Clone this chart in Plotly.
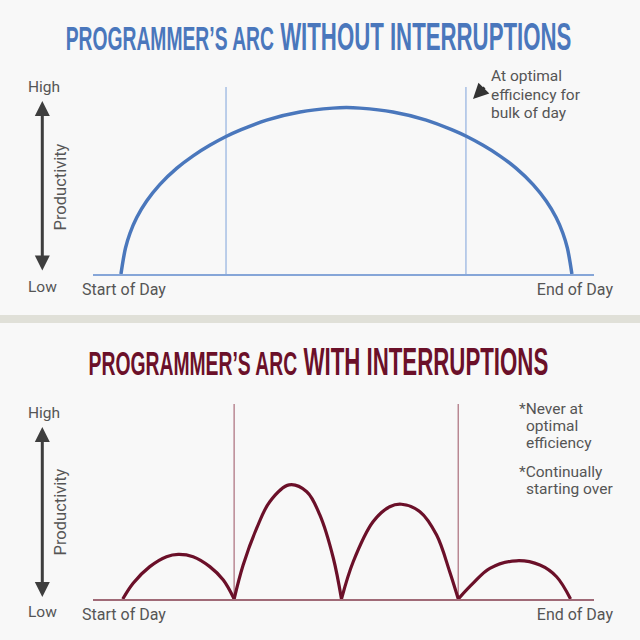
import plotly.graph_objects as go

# ---------------- data ----------------
# time of day: 0 = start of day, 100 = end of day ; productivity: 0 = low, 100 = high
top_x = [0, 1.0, 2.0, 3.5, 5.7, 8.6, 12.4, 16.0, 19.7, 23.3, 26.4, 32.3, 39.7, 47.0, 50.0,
         53.0, 60.3, 67.7, 73.6, 76.7, 80.3, 84.0, 87.6, 91.4, 94.3, 96.5, 98.0, 99.0, 100]
top_y = [0, 13.8, 21.8, 30.2, 39.0, 47.8, 56.6, 63.2, 68.8, 73.5, 76.9, 82.3, 86.6, 88.7, 89.0,
         88.7, 86.6, 82.3, 76.9, 73.5, 68.8, 63.2, 56.6, 47.8, 39.0, 30.2, 21.8, 13.8, 0]
optimal_bounds = [23.3, 76.5]

arc_x = [
    [0.4, 2.7, 6.4, 10.1, 12.7, 16.0, 19.7, 22.7, 25.1],
    [25.1, 27.1, 30.1, 33.0, 37.3, 41.2, 44.1, 47.1, 48.9],
    [48.9, 51.5, 55.9, 59.6, 62.2, 66.3, 70.0, 72.9, 74.8],
    [74.8, 78.1, 81.8, 87.7, 92.9, 96.6, 99.7],
]
arc_y = [
    [0, 8.1, 16.6, 21.7, 22.9, 21.7, 16.6, 9.7, 0],
    [0, 17.4, 36.3, 49.9, 58.5, 55.0, 43.1, 20.9, 0],
    [0, 19.1, 39.6, 47.3, 48.6, 44.8, 32.8, 14.0, 0],
    [0, 8.1, 15.7, 19.6, 17.4, 11.4, 0],
]
interruptions = [25.1, 74.8]

tick_vals = [0, 100]
tick_text = ["Start of Day", "End of Day"]

BLUE = "#4a77bc"
BLUE_LIGHT = "#a7bfe4"
BLUE_BASE = "#86a6d8"
MAROON = "#6b1029"
MAROON_LIGHT = "#b98893"
MAROON_BASE = "#a06a77"
GRAY = "#555555"
ARROW = "#3e3e3e"
BG = "#f8f8f8"
BODY_FONT = "Roboto"
TITLE_FONT = "Liberation Sans"

fig = go.Figure()

# top chart
for xv in optimal_bounds:
    fig.add_trace(go.Scatter(x=[xv, xv], y=[0, 100], mode="lines",
                             line=dict(color=BLUE_LIGHT, width=1.5),
                             xaxis="x", yaxis="y", hoverinfo="skip", cliponaxis=False))
fig.add_trace(go.Scatter(x=top_x, y=top_y, mode="lines",
                         line=dict(color=BLUE, width=3.5, shape="spline", smoothing=1.0),
                         xaxis="x", yaxis="y", hoverinfo="skip", cliponaxis=False))

# bottom chart
for xv in interruptions:
    fig.add_trace(go.Scatter(x=[xv, xv], y=[0, 100], mode="lines",
                             line=dict(color=MAROON_LIGHT, width=1.5),
                             xaxis="x2", yaxis="y2", hoverinfo="skip", cliponaxis=False))
for xs, ys in zip(arc_x, arc_y):
    fig.add_trace(go.Scatter(x=xs, y=ys, mode="lines",
                             line=dict(color=MAROON, width=3.2, shape="spline", smoothing=1.0),
                             xaxis="x2", yaxis="y2", hoverinfo="skip", cliponaxis=False))

W = 640.0
def px(v):  # pixel from top -> paper y
    return 1 - v / W

xdom = [93 / W, 594 / W]
xrange_ = [-6.2, 104.9]

axis_common = dict(range=xrange_, domain=xdom, showgrid=False, zeroline=False, automargin=False,
                   showline=True, linewidth=1.5, ticks="", tickvals=tick_vals, ticktext=tick_text,
                   ticklabelshift=3,
                   tickfont=dict(family=BODY_FONT, size=16, color=GRAY), fixedrange=True)

annotations = []

def title(y, small, big, color):
    annotations.append(dict(
        xref="paper", yref="paper", x=318.5 / W, y=px(y), xanchor="center", yanchor="middle",
        showarrow=False,
        text=f"<b><span style='font-size:33px'>{small}</span> <span style='font-size:38px'>{big}</span></b>",
        font=dict(family=TITLE_FONT, color=color, size=38)))

title(37, "PROGRAMMER’S ARC", "WITHOUT INTERRUPTIONS", BLUE)
title(362, "PROGRAMMER’S ARC", "WITH INTERRUPTIONS", MAROON)

def text(x, y, t, anchor="center", size=15):
    annotations.append(dict(xref="paper", yref="paper", x=x / W, y=px(y), text=t,
                            showarrow=False, xanchor=anchor, yanchor="middle",
                            font=dict(family=BODY_FONT, size=size, color=GRAY)))

# High / Low / Productivity
for hi, lo, mid, a0, a1 in [(87, 287, 187, 101, 272), (413, 612, 512, 427, 598.5)]:
    text(44, hi, "High", size=15.5)
    text(42.5, lo, "Low", size=15.5)
    annotations.append(dict(xref="paper", yref="paper", x=59.5 / W, y=px(mid), text="Productivity",
                            textangle=-90, showarrow=False, xanchor="center", yanchor="middle",
                            font=dict(family=BODY_FONT, size=16.5, color=GRAY)))
    annotations.append(dict(xref="paper", yref="paper", x=42.3 / W, y=px(a0), text="",
                            showarrow=True, axref="pixel", ayref="pixel", ax=0, ay=a1 - a0,
                            arrowhead=2, startarrowhead=2, arrowside="end+start",
                            arrowsize=1, startarrowsize=1, arrowwidth=3, arrowcolor=ARROW,
                            standoff=0, startstandoff=0))

# top note
NOTE = 15.5
text(489, 76.5, "At optimal", "left", NOTE)
text(489, 94.5, "efficiency for", "left", NOTE)
text(489, 112.5, "bulk of day", "left", NOTE)
annotations.append(dict(xref="paper", yref="paper", x=473 / W, y=px(99), text="",
                        showarrow=True, ax=13, ay=-13, arrowhead=2, arrowsize=1.1,
                        arrowwidth=2.8, arrowcolor="#333333", standoff=0))

# bottom notes
text(516.5, 409, "*Never at", "left", NOTE)
text(524, 426, "optimal", "left", NOTE)
text(524, 443, "efficiency", "left", NOTE)
text(516.5, 472, "*Continually", "left", NOTE)
text(524, 489, "starting over", "left", NOTE)

fig.update_layout(
    template="none",
    width=640, height=640, autosize=False,
    margin=dict(l=0, r=0, t=0, b=0, pad=0, autoexpand=False),
    paper_bgcolor=BG, plot_bgcolor=BG,
    showlegend=False,
    xaxis=dict(axis_common, anchor="y", linecolor=BLUE_BASE),
    yaxis=dict(domain=[px(274), px(87)], range=[0, 100], visible=False, fixedrange=True),
    xaxis2=dict(axis_common, anchor="y2", linecolor=MAROON_BASE),
    yaxis2=dict(domain=[px(599), px(404)], range=[0, 100], visible=False, fixedrange=True),
    annotations=annotations,
    shapes=[dict(type="rect", xref="paper", yref="paper", x0=0, x1=1, y0=px(323), y1=px(315),
                 fillcolor="#e0e0d8", line=dict(width=0), layer="below")],
)

# condense the headline text horizontally (the original uses a condensed display face)
squeeze_js = """
var gd = document.getElementById('{plot_id}');
gd.querySelectorAll('text.annotation-text').forEach(function(t){
  var s = t.textContent;
  if (s.indexOf('PROGRAMMER') === -1) return;
  var target = s.indexOf('WITHOUT') !== -1 ? 506 : 460;
  t.removeAttribute('transform');
  var b = t.getBBox();
  if (!b.width) return;
  var cx = b.x + b.width / 2;
  var k = target / b.width;
  t.setAttribute('transform', 'translate(' + cx + ',0) scale(' + k + ',1) translate(' + (-cx) + ',0)');
});
"""

fig.write_html("out.html", config={"displayModeBar": False}, post_script=squeeze_js)
